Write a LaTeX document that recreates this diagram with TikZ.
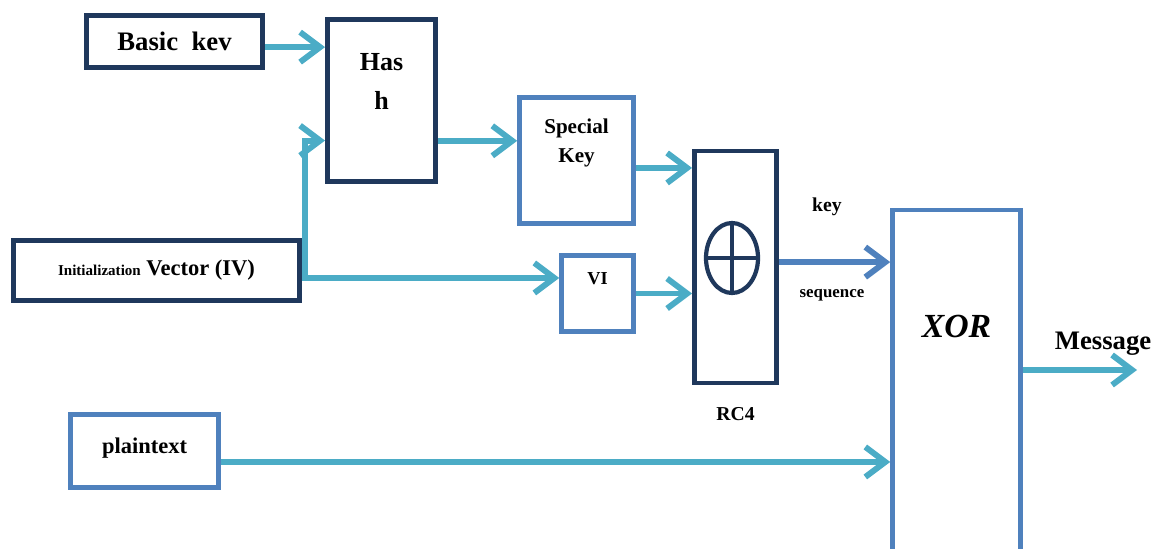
\documentclass[tikz,border=0pt]{standalone}
\usepackage{fontspec}
\setmainfont{Liberation Serif}
\usetikzlibrary{positioning, shapes.geometric, arrows.meta, calc}
\definecolor{NavyColor}{RGB}{31,56,92}
\definecolor{BlueColor}{RGB}{79,129,189}
\definecolor{TealColor}{RGB}{75,172,198}

\begin{document}
\begin{tikzpicture}[
    x=0.025cm, y=-0.025cm,
    darkblock/.style={rectangle, draw=NavyColor, line width=3.5pt, fill=white},
    lightblock/.style={rectangle, draw=BlueColor, line width=3.2pt, fill=white},
    boxtext/.style={inner sep=0pt, align=center},
    flow/.style={draw=TealColor, line width=4.2pt, -{Straight Barb[length=0.5cm, width=0.75cm]}},
    keyflow/.style={flow, draw=BlueColor},
]

\clip (0,0) rectangle (1158,548);

% Key inputs
\node[darkblock, minimum width=4.4cm, minimum height=1.3cm, font=\bfseries\fontsize{19}{23}\selectfont] (basic) at (174.5,41.5) {Basic\ \ kev};
\node[darkblock, minimum width=7.15cm, minimum height=1.5cm, font=\bfseries\fontsize{16}{19}\selectfont] (iv) at (156.5,270.5) {{\fontsize{10.7}{12}\selectfont Initialization} Vector (IV)};

% Hash
\node[darkblock, minimum width=2.7cm, minimum height=4.05cm] (hash) at (381.5,100.5) {};
\node[boxtext, font=\bfseries\fontsize{18.5}{27.7}\selectfont, below=0.9cm of hash.north] (hashtext) {Has\\h};

% Special key and VI
\node[lightblock, minimum width=2.85cm, minimum height=3.15cm] (special) at (576.5,160.5) {};
\node[boxtext, font=\bfseries\fontsize{15}{20.6}\selectfont, below=0.575cm of special.north] (specialtext) {Special\\Key};
\node[lightblock, minimum width=1.8cm, minimum height=1.9cm] (vi) at (597.5,293.5) {};
\node[boxtext, font=\bfseries\fontsize{13}{15}\selectfont, below=0.475cm of vi.north] (vitext) {VI};

% RC4
\node[darkblock, minimum width=2.05cm, minimum height=5.8cm] (rc4) at (735.5,267) {};
\node[ellipse, draw=NavyColor, line width=3pt, outer sep=0pt, inner sep=0pt, minimum width=1.3cm, minimum height=1.75cm] (mix) at (732,258) {};
\draw[NavyColor, line width=3pt] (mix.north) -- (mix.south) (mix.west) -- (mix.east);
\node[boxtext, font=\bfseries\fontsize{14}{16}\selectfont, below=0.55cm of rc4] (rc4label) {RC4};

% XOR and plaintext
\node[lightblock, minimum width=3.2cm, minimum height=8.7cm] (xor) at (956.5,384) {};
\node[boxtext, font=\bfseries\itshape\fontsize{24}{28}\selectfont, below=2.675cm of xor.north] (xortext) {XOR};
\node[lightblock, minimum width=3.7cm, minimum height=1.825cm] (plain) at (144.5,451) {};
\node[boxtext, font=\bfseries\fontsize{16}{19}\selectfont, below=0.625cm of plain.north] (plaintext) {plaintext};

% Labels
\node[font=\bfseries\fontsize{14}{16}\selectfont] (keylabel) at (827,207) {key};
\node[font=\bfseries\fontsize{12}{14}\selectfont] (seqlabel) at (832,295) {sequence};
\node[font=\bfseries\fontsize{19}{23}\selectfont] (msglabel) at (1103,344) {Message};

% Connectors
\coordinate (ivsplit) at ($(iv.east)+(3,7.5)$);
\coordinate (hashin) at ($(hash.south west)!0.26!(hash.north west)$);
\coordinate (msgout) at (1137,370);

\draw[flow] ([yshift=-4pt]basic.east) -- ([yshift=-4pt]basic.east -| hash.west);
\draw[flow] (ivsplit) |- (hashin);
\draw[flow] ([yshift=-5.3pt]iv.east) -- ([yshift=-5.3pt]iv.east -| vi.west);
\draw[flow] ([yshift=14pt]special.west -| hash.east) -- ([yshift=14pt]special.west);
\draw[flow] ([yshift=-5.3pt]special.east) -- ([yshift=-5.3pt]special.east -| rc4.west);
\draw[flow] (vi.east) -- (vi.east -| rc4.west);
\draw[keyflow] ([yshift=3.5pt]rc4.east) -- ([yshift=3.5pt]rc4.east -| xor.west);
\draw[flow] ([yshift=-7.8pt]plain.east) -- ([yshift=-7.8pt]plain.east -| xor.west);
\draw[flow] (xor.east |- msgout) -- (msgout);

\end{tikzpicture}
\end{document}
